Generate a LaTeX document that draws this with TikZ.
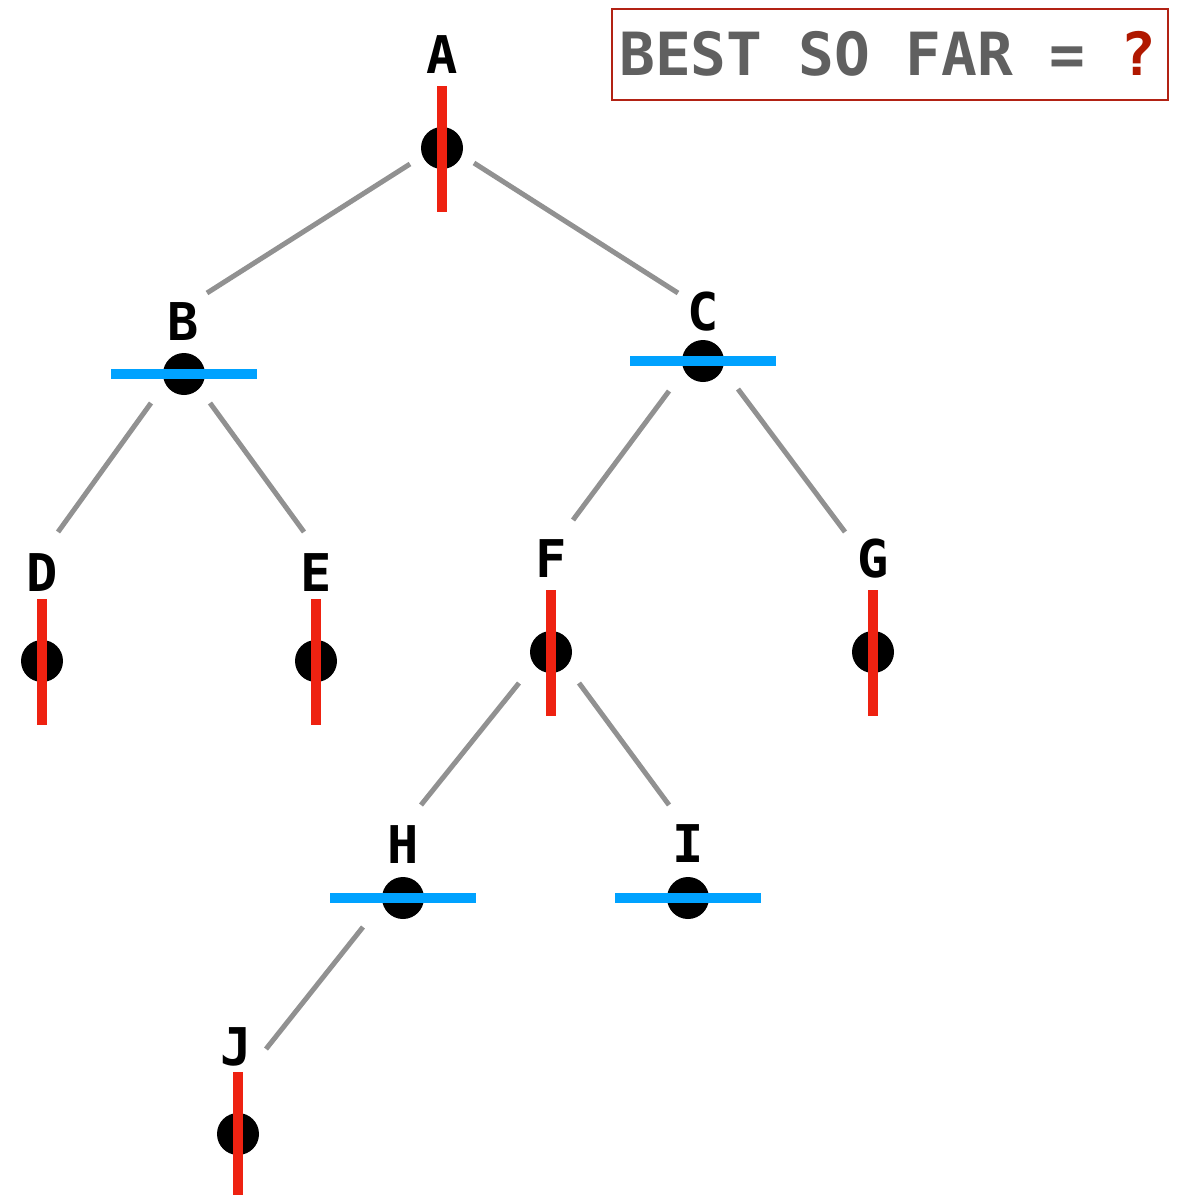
\documentclass[tikz,border=0pt]{standalone}
\usepackage{fontspec}
\newfontfamily\labfont{DejaVu Sans Mono}
\usetikzlibrary{calc}
\definecolor{edgegray}{RGB}{145,145,145}
\definecolor{cutred}{RGB}{238,34,17}
\definecolor{cutblue}{RGB}{0,162,255}
\definecolor{boxred}{RGB}{178,34,20}
\definecolor{textgray}{RGB}{96,96,96}
\definecolor{qred}{RGB}{176,24,0}
\begin{document}
\begin{tikzpicture}[x=1pt,y=-1pt,
  dot/.style={circle, fill=black, minimum size=42pt, inner sep=0pt},
  lab/.style={font=\labfont\bfseries\fontsize{52}{52}\selectfont, anchor=base, inner sep=0pt},
  edge/.style={line width=5pt, draw=edgegray},
  cutv/.style={line width=10.5pt, draw=cutred},
  cuth/.style={line width=10.5pt, draw=cutblue}]
\useasboundingbox (0,0) rectangle (1179,1195);

% dots
\node[dot] (A) at (442,148) {};
\node[dot] (B) at (184,374) {};
\node[dot] (C) at (703,361) {};
\node[dot] (D) at (42,661) {};
\node[dot] (E) at (316,661) {};
\node[dot] (F) at (551,652) {};
\node[dot] (G) at (873,652) {};
\node[dot] (H) at (403,898) {};
\node[dot] (I) at (688,898) {};
\node[dot] (J) at (238,1134) {};

% labels
\node[lab] (Alab) at (442,73) {A};
\node[lab] (Blab) at (183,340) {B};
\node[lab] (Clab) at (703,330) {C};
\node[lab] (Dlab) at (42,591) {D};
\node[lab] (Elab) at (316,591) {E};
\node[lab] (Flab) at (551,577) {F};
\node[lab] (Glab) at (873,577) {G};
\node[lab] (Hlab) at (403,863) {H};
\node[lab] (Ilab) at (688,862) {I};
\node[lab] (Jlab) at (236,1065) {J};

% edges
\draw[edge] ($(A)+(-32,16)$) -- ($(B)+(23,-81)$);
\draw[edge] ($(A)+(32,15)$) -- ($(C)+(-25,-68)$);
\draw[edge] ($(B)+(-33,29)$) -- ($(D)+(16,-129)$);
\draw[edge] ($(B)+(26,29)$) -- ($(E)+(-12,-129)$);
\draw[edge] ($(C)+(-34,30)$) -- ($(F)+(22,-132)$);
\draw[edge] ($(C)+(35,28)$) -- ($(G)+(-28,-120)$);
\draw[edge] ($(F)+(-32,31)$) -- ($(H)+(18,-93)$);
\draw[edge] ($(F)+(28,31)$) -- ($(I)+(-19,-93)$);
\draw[edge] ($(H)+(-40,29)$) -- ($(J)+(28,-85)$);

% cut marks
\foreach \n in {A,D,E,F,G,J}{
  \draw[cutv] ($(\n)+(0,-62)$) -- ($(\n)+(0,64)$);
}
\foreach \n in {B,C,H,I}{
  \draw[cuth] ($(\n)+(-73,0)$) -- ($(\n)+(73,0)$);
}

% best so far box
\node[draw=boxred, line width=2pt, minimum width=556pt, minimum height=91pt,
  inner sep=0pt] (best) at (890,54.5) {};
\node[inner sep=0pt, anchor=base, font=\labfont\bfseries\fontsize{59.5}{59.5}\selectfont] (besttext) at (888,75)
  {\textcolor{textgray}{BEST SO FAR =} \textcolor{qred}{?}};
\end{tikzpicture}
\end{document}
